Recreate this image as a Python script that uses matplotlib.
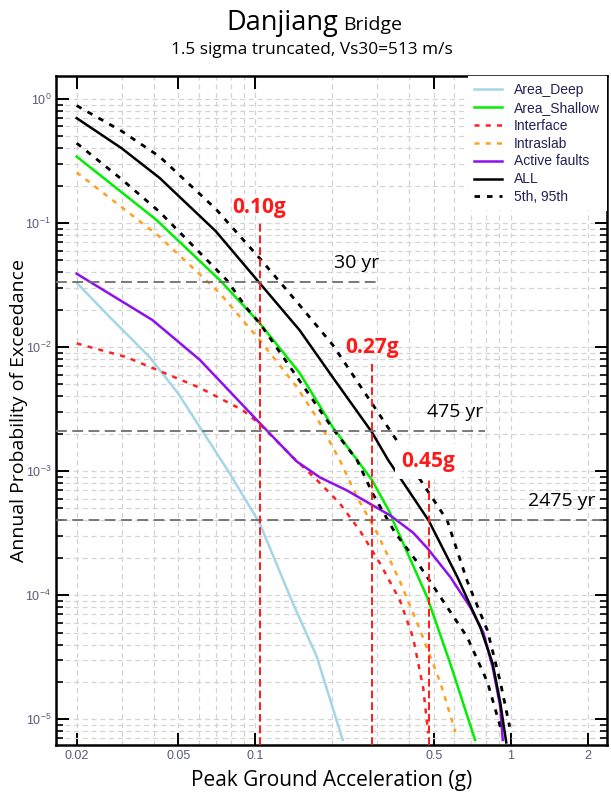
import numpy as np
import matplotlib.pyplot as plt
from matplotlib.ticker import LogLocator, FixedLocator, FixedFormatter, NullFormatter

# Hazard curves (PGA in g, annual probability of exceedance)
deepPga = [0.02, 0.0269, 0.0386, 0.05, 0.0794, 0.104, 0.14, 0.174, 0.22]
deepProb = [0.033, 0.0175, 0.0083, 0.0042, 0.00096, 0.00038, 8.7e-5, 3.2e-5, 6.8e-6]

shallowPga = [0.02, 0.041, 0.0726, 0.104, 0.149, 0.201, 0.286, 0.337, 0.346, 0.471, 0.58, 0.725]
shallowProb = [0.343, 0.106, 0.0347, 0.0156, 0.0062, 0.00226, 0.00085, 0.00046, 0.0004, 9.6e-5, 2.8e-5, 6.8e-6]

interfacePga = [0.02, 0.0313, 0.0606, 0.0893, 0.104, 0.14, 0.174, 0.214, 0.257, 0.308, 0.368, 0.414, 0.454, 0.475]
interfaceProb = [0.0107, 0.0083, 0.0047, 0.0031, 0.0024, 0.0013, 0.00085, 0.00055, 0.00033, 0.00018, 9.1e-5, 4.6e-5, 1.8e-5, 7.7e-6]

intraslabPga = [0.02, 0.0422, 0.0726, 0.104, 0.145, 0.174, 0.214, 0.25, 0.299, 0.368, 0.442, 0.529, 0.607]
intraslabProb = [0.256, 0.0776, 0.0272, 0.0114, 0.0048, 0.0027, 0.00123, 0.00062, 0.00032, 0.00013, 5.2e-5, 2.0e-5, 7.9e-6]

faultsPga = [0.02, 0.0396, 0.0606, 0.107, 0.145, 0.179, 0.228, 0.288, 0.337, 0.414, 0.471, 0.58, 0.694, 0.781, 0.85, 0.91, 0.93]
faultsProb = [0.039, 0.0165, 0.0079, 0.0023, 0.0012, 0.00089, 0.0007, 0.00053, 0.00044, 0.00032, 0.00024, 0.00014, 8e-5, 5e-5, 2.6e-5, 1.26e-5, 6.8e-6]

allPga = [0.02, 0.03, 0.0422, 0.07, 0.104, 0.149, 0.201, 0.286, 0.331, 0.477, 0.618, 0.76, 0.85, 0.91, 0.96]
allProb = [0.70, 0.40, 0.231, 0.086, 0.0328, 0.0137, 0.0057, 0.00206, 0.00123, 0.0004, 0.00014, 5.5e-5, 2.8e-5, 1.35e-5, 6.5e-6]

p95Pga = [0.02, 0.03, 0.0422, 0.07, 0.104, 0.149, 0.201, 0.286, 0.368, 0.43, 0.564, 0.675, 0.81, 0.91, 0.99]
p95Prob = [0.883, 0.55, 0.343, 0.13, 0.052, 0.0218, 0.0104, 0.00352, 0.00162, 0.00093, 0.0004, 0.00013, 5.2e-5, 2.0e-5, 8.7e-6]

p5Pga = [0.02, 0.03, 0.0422, 0.0773, 0.0926, 0.104, 0.201, 0.25, 0.288, 0.352, 0.43, 0.564, 0.675, 0.81, 0.91]
p5Prob = [0.44, 0.225, 0.123, 0.0347, 0.0206, 0.0156, 0.0022, 0.00123, 0.00066, 0.00032, 0.000185, 8e-5, 4.6e-5, 2.0e-5, 8.7e-6]

# Return periods and design PGA
returnPeriods = [30, 475, 2475]
returnLabels = ['30 yr', '475 yr', '2475 yr']
designPga = [0.104, 0.286, 0.477]
designLabels = ['0.10g', '0.27g', '0.45g']

tickColor = '#5a5a7a'

fig = plt.figure(figsize=(6.11, 7.98), dpi=100)
ax = fig.add_axes([56 / 611, 53 / 798, 551 / 611, 669 / 798])
ax.set_xscale('log')
ax.set_yscale('log')
ax.set_xlim(0.0166, 2.38)
ax.set_ylim(6.2e-6, 1.53)

# Grid on every decade subdivision
ax.xaxis.set_minor_locator(LogLocator(base=10, subs=np.arange(1, 10), numticks=20))
ax.yaxis.set_minor_locator(LogLocator(base=10, subs=np.arange(2, 10), numticks=20))
ax.grid(True, which='both', color='#d4d4d4', linestyle=(0, (4, 3)), linewidth=0.9)

ax.plot(deepPga, deepProb, color='#a6d6e6', lw=1.8, label='Area_Deep')
ax.plot(shallowPga, shallowProb, color='#00ee00', lw=1.8, label='Area_Shallow')
ax.plot(interfacePga, interfaceProb, color='#ff2020', lw=1.8, linestyle=(0, (2, 2.5)), label='Interface')
ax.plot(intraslabPga, intraslabProb, color='#ffa020', lw=1.8, linestyle=(0, (2, 2.5)), label='Intraslab')
ax.plot(faultsPga, faultsProb, color='#8f0ff0', lw=1.8, label='Active faults')
ax.plot(allPga, allProb, color='black', lw=1.8, label='ALL')
ax.plot(p95Pga, p95Prob, color='black', lw=2, linestyle=(0, (2, 2.5)), label='5th, 95th')
ax.plot(p5Pga, p5Prob, color='black', lw=2, linestyle=(0, (2, 2.5)))

# Return period lines
lineEnds = [0.584, 0.779, 1.0]
labelX = [0.25, 0.605, 1.58]
for rp, lab, xe, lx in zip(returnPeriods, returnLabels, lineEnds, labelX):
    ax.axhline(1.0 / rp, xmin=0, xmax=xe, color='#6e6e6e', lw=1.3, linestyle=(0, (6, 3)), zorder=3)
    ax.text(lx, 1.0 / rp * 1.2, lab, fontsize=14, family='Open Sans', ha='center', va='bottom', zorder=6)

# Design PGA lines
lineTops = [0.1, 0.0074, 0.00089]
for pga, lab, top in zip(designPga, designLabels, lineTops):
    ax.plot([pga, pga], [6.2e-6, top], color='#ff1a1a', lw=1.4, linestyle=(0, (4, 2)), zorder=4)
    bbox = dict(facecolor='white', edgecolor='none', pad=5) if lab == '0.45g' else None
    ax.text(pga, top * 1.1, lab, color='#ff1a1a', fontsize=15, fontweight='bold',
            family='Open Sans', ha='center', va='bottom', bbox=bbox, zorder=7)

# Ticks
ax.xaxis.set_major_locator(FixedLocator([0.02, 0.05, 0.1, 0.5, 1, 2]))
ax.xaxis.set_major_formatter(FixedFormatter(['0.02', '0.05', '0.1', '0.5', '1', '2']))
ax.xaxis.set_minor_formatter(NullFormatter())
ax.tick_params(which='both', direction='in', top=True, right=True, colors='black',
               labelcolor=tickColor, labelsize=9)
ax.tick_params(which='major', length=9, width=1.4)
ax.tick_params(which='minor', length=5, width=1.2)
ax.tick_params(axis='x', which='minor', length=0)
for lbl in ax.get_xticklabels() + ax.get_yticklabels():
    lbl.set_family('Liberation Sans')
for spine in ax.spines.values():
    spine.set_linewidth(1.8)

ax.set_xlabel('Peak Ground Acceleration (g)', fontsize=15, family='Open Sans', labelpad=6)
ax.set_ylabel('Annual Probability of Exceedance', fontsize=14, family='Open Sans')
ax.yaxis.set_label_coords(-0.051, 0.5)

leg = ax.legend(loc='upper right', bbox_to_anchor=(1.0, 1.0), frameon=True, fancybox=False,
                handlelength=2.0, handletextpad=0.85, labelspacing=0.28, borderaxespad=0.0,
                borderpad=0.5, prop={'family': 'Liberation Sans', 'size': 10})
leg.get_frame().set_edgecolor('none')
leg.get_frame().set_alpha(1)
for t in leg.get_texts():
    t.set_color('#22225a')
leg.set_zorder(8)

fig.text(0.553, 0.963, 'Danjiang', fontsize=19.5, family='Open Sans', ha='right', va='baseline')
fig.text(0.562, 0.963, 'Bridge', fontsize=14, family='Open Sans', ha='left', va='baseline')
fig.text(0.51, 0.937, '1.5 sigma truncated, Vs30=513 m/s', fontsize=12.4, family='Open Sans', ha='center', va='center')

fig.savefig('out.png', dpi=100)
